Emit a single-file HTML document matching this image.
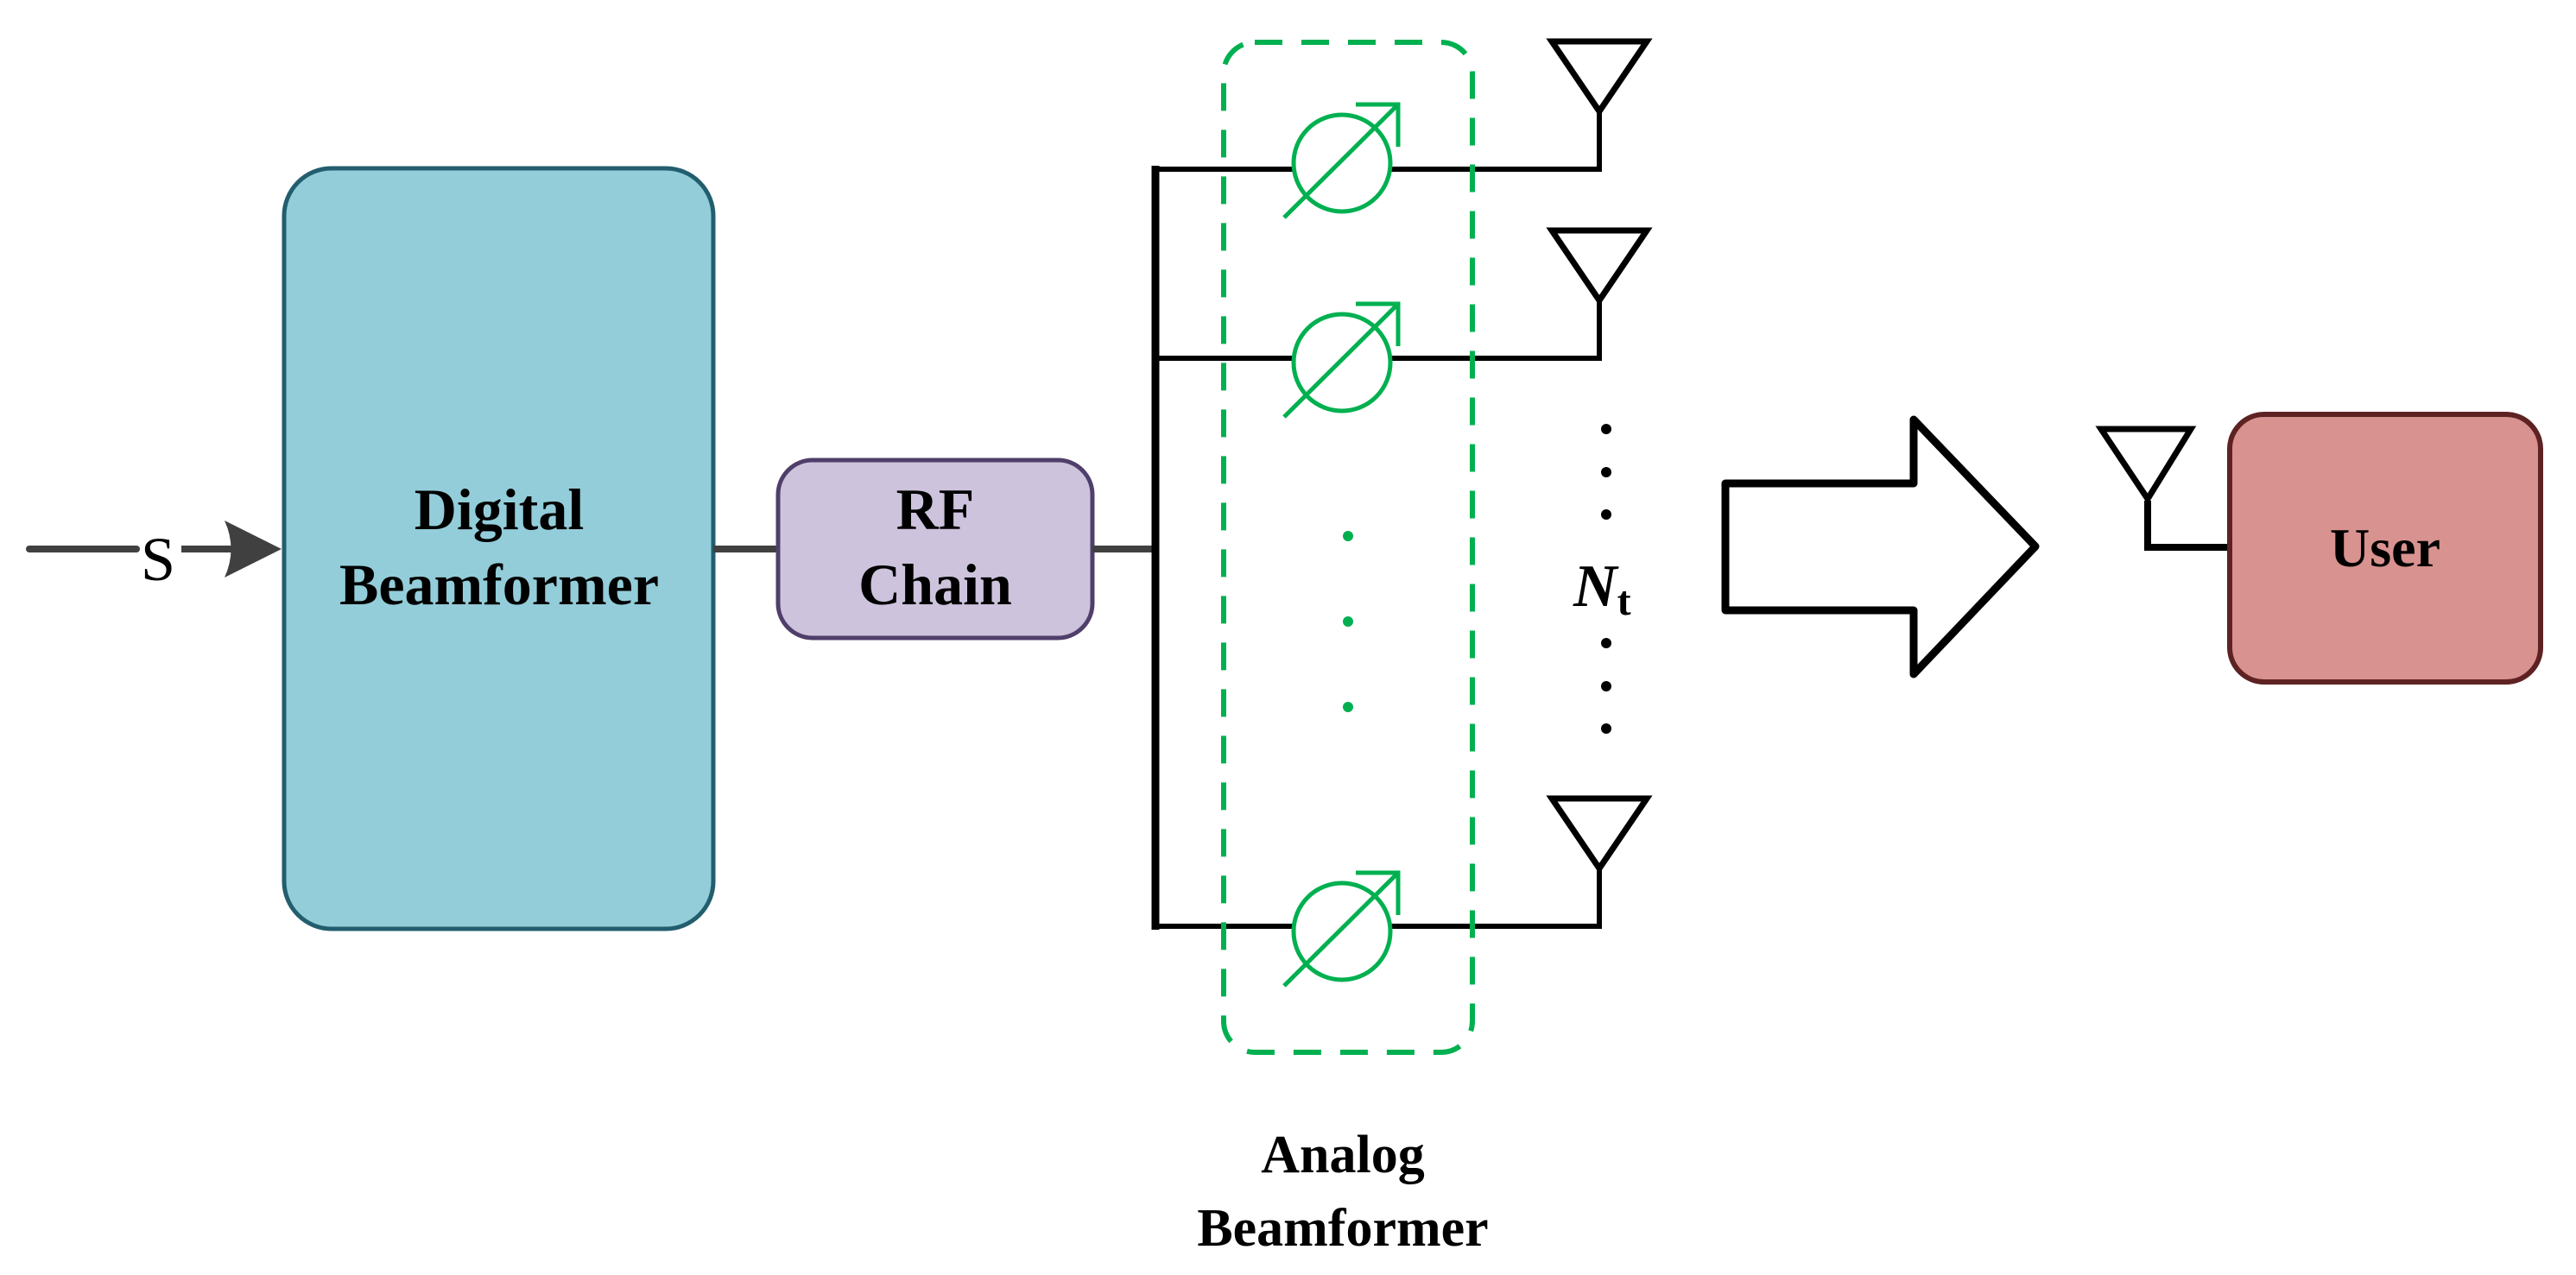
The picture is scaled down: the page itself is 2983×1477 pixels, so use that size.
<!DOCTYPE html>
<html><head><meta charset="utf-8"><style>
html,body{margin:0;padding:0;background:#fff}
svg{display:block}
text{font-family:"Liberation Serif",serif;font-weight:bold;fill:#000}
</style></head><body>
<svg width="2983" height="1477" viewBox="0 0 2983 1477" xmlns="http://www.w3.org/2000/svg">
<!-- input -->
<line x1="34" y1="636" x2="158" y2="636" stroke="#404040" stroke-width="8" stroke-linecap="round"/>
<line x1="210" y1="636" x2="300" y2="636" stroke="#404040" stroke-width="8"/>
<path d="M326 636 L260 603 Q275 636 260 669 Z" fill="#404040"/>
<text x="183" y="672" font-size="72" text-anchor="middle" style="font-weight:normal">S</text>
<!-- digital -->
<rect x="329" y="195" width="497" height="881" rx="55" fill="#93cdd9" stroke="#225e6e" stroke-width="5"/>
<text x="578" y="613" font-size="68" text-anchor="middle">Digital</text>
<text x="578" y="700" font-size="68" text-anchor="middle">Beamformer</text>
<line x1="826" y1="636" x2="899" y2="636" stroke="#404040" stroke-width="8"/>
<rect x="901" y="533" width="364" height="206" rx="40" fill="#cdc3dc" stroke="#4f3f6a" stroke-width="5"/>
<text x="1083" y="613" font-size="68" text-anchor="middle">RF</text>
<text x="1083" y="700" font-size="68" text-anchor="middle">Chain</text>
<line x1="1265" y1="636" x2="1338" y2="636" stroke="#404040" stroke-width="8"/>
<!-- bus -->
<line x1="1338" y1="192" x2="1338" y2="1077" stroke="#000" stroke-width="9"/>
<g fill="none" stroke="#000" stroke-width="6">
<polyline points="1338,196 1852,196 1852,131"/>
<polyline points="1338,415 1852,415 1852,350"/>
<polyline points="1338,1073 1852,1073 1852,1008"/>
</g>
<g fill="none" stroke="#000" stroke-width="7">
<polygon points="1797,48 1907,48 1852,129"/>
<polygon points="1797,267 1907,267 1852,348"/>
<polygon points="1797,925 1907,925 1852,1006"/>
</g>
<!-- phase shifters -->
<g fill="#fff" stroke="#00b050" stroke-width="5">
<circle cx="1554" cy="189" r="56"/>
<circle cx="1554" cy="420" r="56"/>
<circle cx="1554" cy="1079" r="56"/>
</g>
<g fill="none" stroke="#00b050" stroke-width="5">
<path d="M1487 252 L1619 121 M1570 121 L1619 121 L1619 170"/>
<path d="M1487 483 L1619 352 M1570 352 L1619 352 L1619 401"/>
<path d="M1487 1142 L1619 1011 M1570 1011 L1619 1011 L1619 1060"/>
<rect x="1417" y="49" width="288" height="1170" rx="36" stroke-width="6" stroke-dasharray="32 22"/>
</g>
<g fill="#00b050">
<circle cx="1561" cy="621" r="6"/><circle cx="1561" cy="720" r="6"/><circle cx="1561" cy="819" r="6"/>
</g>
<g fill="#000">
<circle cx="1860" cy="497" r="6"/><circle cx="1860" cy="547" r="6"/><circle cx="1860" cy="596" r="6"/>
<circle cx="1860" cy="745" r="6"/><circle cx="1860" cy="795" r="6"/><circle cx="1860" cy="844" r="6"/>
</g>
<text x="1822" y="702" font-size="70" font-style="italic">N<tspan font-size="48" font-style="normal" dy="10">t</tspan></text>
<text x="1555" y="1358" font-size="62" text-anchor="middle">Analog</text>
<text x="1555" y="1443" font-size="62" text-anchor="middle">Beamformer</text>
<!-- big arrow -->
<polygon points="1998,560 2216,560 2216,486 2357,633 2216,781 2216,707 1998,707" fill="#fff" stroke="#000" stroke-width="9" stroke-linejoin="round"/>
<!-- user antenna -->
<polyline points="2487,580 2487,634 2582,634" fill="none" stroke="#000" stroke-width="8"/>
<polygon points="2433,497 2537,497 2487,578" fill="none" stroke="#000" stroke-width="7"/>
<rect x="2582" y="480" width="360" height="310" rx="40" fill="#d8928f" stroke="#5e2222" stroke-width="6"/>
<text x="2762" y="656" font-size="64" text-anchor="middle">User</text>
</svg>
</body></html>
